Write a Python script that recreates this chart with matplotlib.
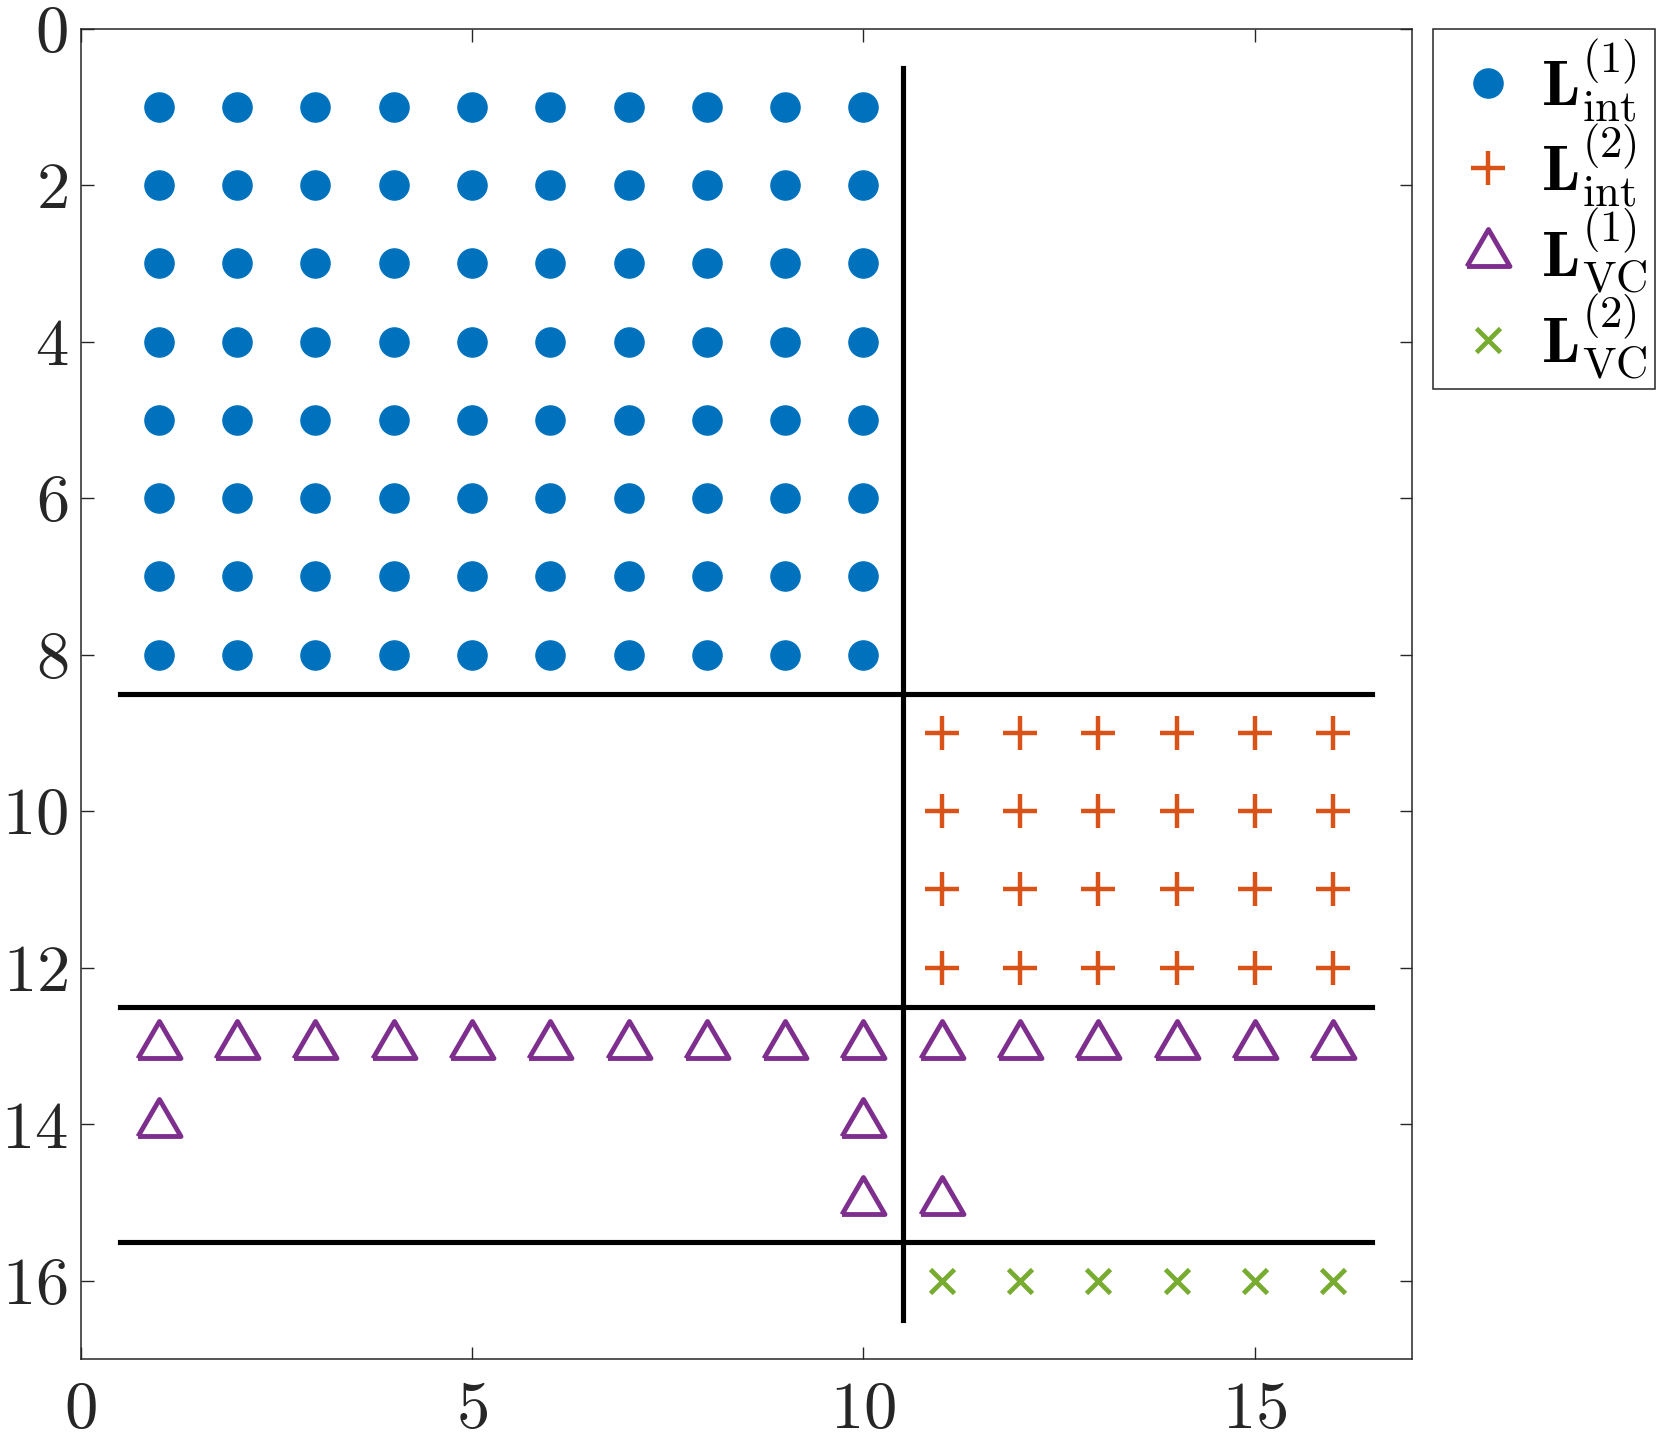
import matplotlib
matplotlib.use("Agg")
import matplotlib.pyplot as plt
import numpy as np
from matplotlib.ticker import FuncFormatter

plt.rcParams['mathtext.fontset'] = 'cm'
plt.rcParams['font.family'] = ['serif']
plt.rcParams['font.serif'] = ['cmr10', 'DejaVu Serif']

# interior block 1 (circles)
int1_cols = [1, 2, 3, 4, 5, 6, 7, 8, 9, 10]
int1_rows = [1, 2, 3, 4, 5, 6, 7, 8]
# interior block 2 (plus)
int2_cols = [11, 12, 13, 14, 15, 16]
int2_rows = [9, 10, 11, 12]
# vertex-cut set 1 (triangles)
vc1_x = [1, 2, 3, 4, 5, 6, 7, 8, 9, 10, 11, 12, 13, 14, 15, 16, 1, 10, 10, 11]
vc1_y = [13, 13, 13, 13, 13, 13, 13, 13, 13, 13, 13, 13, 13, 13, 13, 13, 14, 14, 15, 15]
# vertex-cut set 2 (crosses)
vc2_x = [11, 12, 13, 14, 15, 16]
vc2_y = [16, 16, 16, 16, 16, 16]

# separator lines
hline_y = [8.5, 12.5, 15.5]
hline_span = [0.5, 16.5]
vline_x = 10.5
vline_span = [0.5, 16.5]

labels = [r'$\mathbf{L}^{(1)}_{\mathrm{int}}$', r'$\mathbf{L}^{(2)}_{\mathrm{int}}$',
          r'$\mathbf{L}^{(1)}_{\mathrm{VC}}$', r'$\mathbf{L}^{(2)}_{\mathrm{VC}}$']

blue = '#0072BD'
orange = '#D95319'
purple = '#7E2F8E'
green = '#77AC30'
# MATLAB-like triangle: wider than tall, sitting a bit above the point
tri = [(-0.86, -0.48), (0.86, -0.48), (0, 1.0), (-0.86, -0.48)]

fig = plt.figure(figsize=(16.61, 14.43), dpi=100)
ax = fig.add_axes([0.0485, 0.0582, 0.8013, 0.9220])

gx, gy = np.meshgrid(int1_cols, int1_rows)
ax.plot(gx.ravel(), gy.ravel(), 'o', color=blue, ms=21, label=labels[0])
gx, gy = np.meshgrid(int2_cols, int2_rows)
ax.plot(gx.ravel(), gy.ravel(), '+', color=orange, ms=24, mew=3.2, label=labels[1])
ax.plot(vc1_x, vc1_y, ls='none', marker=tri, color=purple, mfc='none', ms=36, mew=3.5,
        label=labels[2])
ax.plot(vc2_x, vc2_y, 'x', color=green, ms=17, mew=3.4, label=labels[3])

for y in hline_y:
    ax.plot(hline_span, [y, y], 'k-', lw=3.7)
ax.plot([vline_x, vline_x], vline_span, 'k-', lw=3.7)

ax.set_xlim(0, 17)
ax.set_ylim(17, 0)
ax.set_xticks([0, 5, 10, 15])
ax.set_yticks([0, 2, 4, 6, 8, 10, 12, 14, 16])
fmt = FuncFormatter(lambda v, p: r'$%d$' % v)
ax.xaxis.set_major_formatter(fmt)
ax.yaxis.set_major_formatter(fmt)
ax.tick_params(direction='in', length=9, width=1, colors='#262626', labelsize=48,
               top=True, right=True)
ax.tick_params(axis='x', pad=16)
ax.tick_params(axis='y', pad=9)
for s in ax.spines.values():
    s.set_color('#262626')
    s.set_linewidth(1.1)

leg = ax.legend(loc='upper left', bbox_to_anchor=(1433 / 1661, 1 - 28.6 / 1443),
                bbox_transform=fig.transFigure, borderaxespad=0, fontsize=46,
                fancybox=False, edgecolor='#262626', framealpha=1,
                handlelength=1.47, handletextpad=0.1, labelspacing=-0.05,
                borderpad=0.12)
leg.get_frame().set_linewidth(1.1)

fig.savefig('out.png', dpi=100)
